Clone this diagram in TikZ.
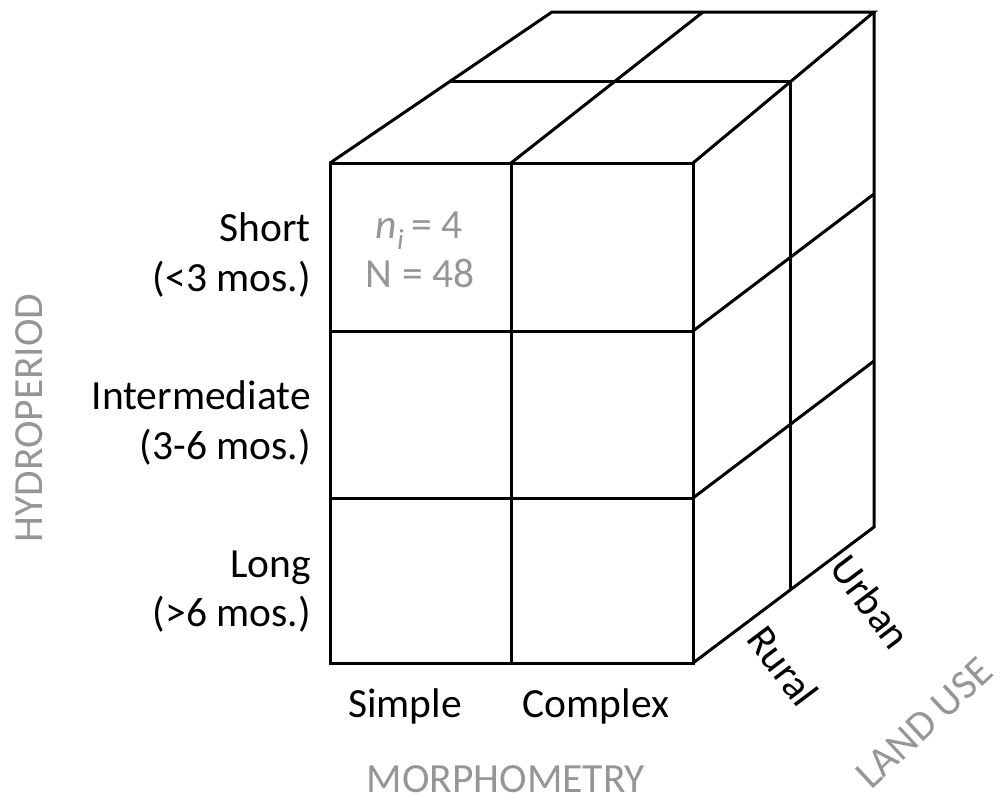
\documentclass[tikz,border=0pt]{standalone}
\usepackage{fontspec}
\setmainfont{Carlito}
\usetikzlibrary{calc}
\definecolor{axisgray}{RGB}{150,150,150}
\begin{document}
\begin{tikzpicture}[x=1pt,y=-1pt,
  edge/.style={line width=3pt,line join=miter},
  lbl/.style={font=\fontsize{41.5}{50}\selectfont,inner sep=0pt},
  axislbl/.style={lbl,text=axisgray},
  cellnote/.style={lbl,text=axisgray,anchor=base}]
  \useasboundingbox (0,0) rectangle (1000,803);

  % corners of the block: front face and back face
  \coordinate (ftl) at (330,163);
  \coordinate (ftm) at (511,163);
  \coordinate (ftr) at (693,163);
  \coordinate (fbl) at (330,663);
  \coordinate (fbm) at (511,663);
  \coordinate (fbr) at (693,663);
  \coordinate (btl) at (552,12);
  \coordinate (btm) at (703,12);
  \coordinate (btr) at (874,12);
  \coordinate (bbr) at (874,527);
  % row dividers on the front and the back
  \coordinate (f1l) at (330,331);
  \coordinate (f1r) at (693,331);
  \coordinate (f2l) at (330,498);
  \coordinate (f2r) at (693,498);
  \coordinate (b1r) at (874,194);
  \coordinate (b2r) at (874,361);
  % halfway in depth
  \coordinate (mtl) at ($(ftl)!0.54!(btl)$);
  \coordinate (mtr) at ($(ftr)!0.54!(btr)$);
  \coordinate (mbr) at ($(fbr)!0.54!(bbr)$);

  % front face
  \draw[edge] (ftl) rectangle (fbr);
  \draw[edge] (ftm) -- (fbm);
  \draw[edge] (f1l) -- (f1r);
  \draw[edge] (f2l) -- (f2r);
  % top face
  \draw[edge] (ftl) -- (btl) -- (btr) -- (ftr);
  \draw[edge] (ftm) -- (btm);
  \draw[edge] (mtl) -- (mtr);
  % right face
  \draw[edge] (btr) -- (bbr) -- (fbr);
  \draw[edge] (f1r) -- (b1r);
  \draw[edge] (f2r) -- (b2r);
  \draw[edge] (mtr) -- (mbr);

  % hydroperiod classes
  \node[lbl,anchor=base east] (short1) at (311,241) {Short};
  \node[lbl,anchor=base east] (short2) at (311,291) {(<3 mos.)};
  \node[lbl,anchor=base east] (inter1) at (311,409) {Intermediate};
  \node[lbl,anchor=base east] (inter2) at (311,459) {(3-6 mos.)};
  \node[lbl,anchor=base east] (long1) at (311,577) {Long};
  \node[lbl,anchor=base east] (long2) at (311,626) {(>6 mos.)};

  % sample sizes
  \node[cellnote] (ni) at (419,238) {{\itshape n}\textsubscript{\itshape i}\,= 4};
  \node[cellnote] (nn) at (420,287) {N = 48};

  % morphometry classes
  \node[lbl,anchor=base] (simple) at (405,717) {Simple};
  \node[lbl,anchor=base] (complex) at (596,717) {Complex};

  % land-use classes
  \node[lbl,rotate=-53] (rural) at (783,666) {Rural};
  \node[lbl,rotate=-53] (urban) at (871,602) {Urban};

  % axis titles
  \node[axislbl,anchor=base,rotate=90] (hydro) at (42,418) {HYDROPERIOD};
  \node[axislbl,anchor=base] (morph) at (506,792) {MORPHOMETRY};
  \node[axislbl,rotate=43] (landuse) at (924,723) {LAND USE};
\end{tikzpicture}
\end{document}
